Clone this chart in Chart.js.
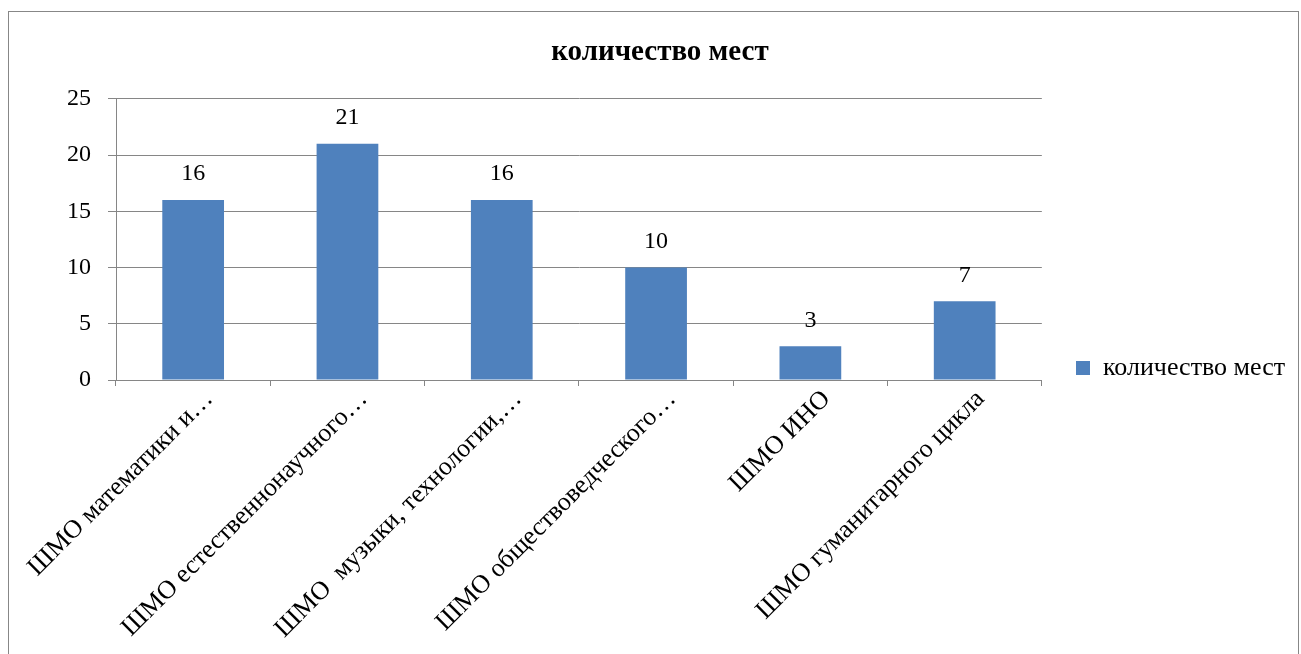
<!DOCTYPE html>
<html><head><meta charset="utf-8">
<script src="https://cdn.jsdelivr.net/npm/chart.js@4"></script>
<style>
html,body{margin:0;padding:0;background:#fff;overflow:hidden;width:1301px;height:654px}
#frame{position:absolute;left:8px;top:11px;width:1289px;height:700px;border:1px solid #878787;}
canvas{display:block}
</style></head><body>
<div id="frame"><canvas id="c" width="1289" height="642"></canvas></div>
<script>
const categories = [
  'ШМО математики и…',
  'ШМО естественнонаучного…',
  'ШМО  музыки, технологии,…',
  'ШМО обществоведческого…',
  'ШМО ИНО',
  'ШМО гуманитарного цикла'
];
const seriesName = 'количество мест';
const values = [16, 21, 16, 10, 3, 7];
const yTicks = [0, 5, 10, 15, 20, 25];
const chartTitle = 'количество мест';

const FONT = '"Liberation Serif", "Times New Roman", serif';
const GRID = '#868686';

const valueLabels = {
  id: 'valueLabels',
  afterDatasetsDraw(chart) {
    const ctx = chart.ctx;
    const meta = chart.getDatasetMeta(0);
    const data = chart.data.datasets[0].data;
    ctx.save();
    ctx.font = '24px ' + FONT;
    ctx.fillStyle = '#000';
    ctx.textAlign = 'center';
    ctx.textBaseline = 'middle';
    meta.data.forEach((bar, i) => {
      ctx.fillText(String(data[i]), bar.x, bar.y - 26);
    });
    ctx.restore();
  }
};

const legendPlace = {
  id: 'legendPlace',
  afterLayout(chart) {
    const L = chart.legend;
    if (!L) return;
    const w = L.width, h = L.height;
    L.left = 1030; L.right = L.left + w;
    L.top = 356 - h / 2; L.bottom = L.top + h;
  }
};

new Chart(document.getElementById('c'), {
  type: 'bar',
  data: {
    labels: categories,
    datasets: [{
      label: seriesName,
      data: values,
      backgroundColor: '#4F81BD',
      borderWidth: 0,
      categoryPercentage: 1,
      barPercentage: 0.4
    }]
  },
  options: {
    responsive: false,
    animation: false,
    devicePixelRatio: 1,
    layout: { padding: { left: 13, right: 0, top: 0, bottom: 14 } },
    plugins: {
      tooltip: { enabled: false },
      title: {
        display: true,
        text: chartTitle,
        color: '#000',
        font: { family: FONT, size: 29, weight: 'bold' },
        padding: { top: 23, bottom: 29 }
      },
      legend: {
        position: 'right',
        fullSize: false,
        align: 'center',
        labels: {
          boxWidth: 14, boxHeight: 14, padding: 37,
          color: '#000',
          font: { family: FONT, size: 26 }
        }
      }
    },
    scales: {
      x: {
        offset: true,
        grid: { offset: true, drawOnChartArea: false, drawTicks: true, tickLength: 6, color: GRID },
        border: { color: GRID },
        ticks: { minRotation: 45, maxRotation: 45, autoSkip: false, color: '#000', padding: -2,
                 labelOffset: 16, font: { family: FONT, size: 26 } },
        afterFit(s) { s.height = 260; s.paddingLeft = 0; s.paddingRight = 0; }
      },
      y: {
        min: 0, max: 25,
        afterBuildTicks(s) { s.ticks = yTicks.map(v => ({ value: v })); },
        ticks: { color: '#000', padding: 17, font: { family: FONT, size: 24 } },
        grid: { color: GRID, tickLength: 8, lineWidth: 1 },
        border: { color: GRID },
        afterFit(s) { s.width = 94; }
      }
    }
  },
  plugins: [valueLabels, legendPlace]
});
</script>
</body></html>
